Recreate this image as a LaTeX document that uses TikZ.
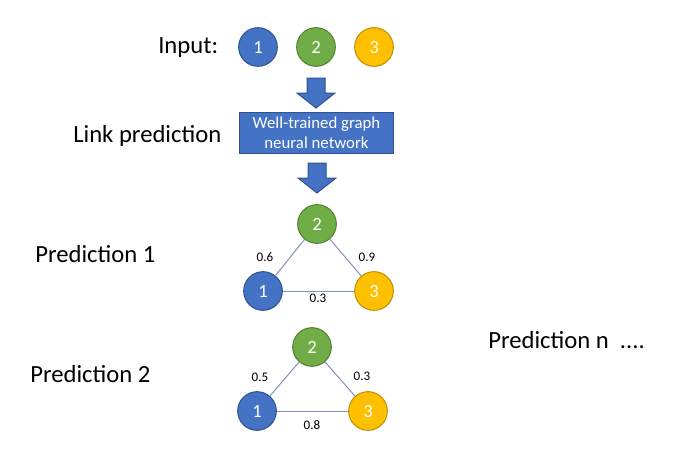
\documentclass[tikz,border=0pt]{standalone}
\usepackage{fontspec}
\setmainfont{Carlito}
\usepackage{tikz}
\usetikzlibrary{positioning,calc}
\usepackage{xcolor}

\definecolor{nblue}{HTML}{4472C4}
\definecolor{nblueline}{HTML}{2F528F}
\definecolor{ngreen}{HTML}{70AD47}
\definecolor{ngreenline}{HTML}{507E32}
\definecolor{ngold}{HTML}{FFC000}
\definecolor{ngoldline}{HTML}{BC8C00}
\definecolor{edgecol}{HTML}{7F93BA}

\begin{document}
\begin{tikzpicture}[x=0.75pt,y=-0.75pt,
    vtx/.style={circle, draw, line width=0.75pt, minimum size=29pt, inner sep=0pt, text=white, font=\fontsize{14}{16}\selectfont},
    vblue/.style={vtx, fill=nblue, draw=nblueline},
    vgreen/.style={vtx, fill=ngreen, draw=ngreenline},
    vgold/.style={vtx, fill=ngold, draw=ngoldline},
    lbl/.style={anchor=base west, inner sep=0pt, font=\fontsize{18.5}{22}\selectfont},
    wt/.style={inner sep=0pt, font=\fontsize{9.8}{11}\selectfont},
    link/.style={draw=edgecol, line width=0.75pt},
    blockarrow/.style={fill=nblue, draw=nblueline, line width=0.75pt}]
    \useasboundingbox (0,0) rectangle (690,462);

    % Input
    \node[lbl] (input) at (158,53) {Input:};
    \node[vblue]  (in1) at (258,47) {1};
    \node[vgreen] (in2) at (316,47) {2};
    \node[vgold]  (in3) at (374,47) {3};

    % Down arrows
    \draw[blockarrow] (307,78) -- (325,78) -- (325,93) -- (335,93) -- (316,108) -- (297,93) -- (307,93) -- cycle;
    \draw[blockarrow] (308,163) -- (326,163) -- (326,178) -- (336,178) -- (317,193) -- (298,178) -- (308,178) -- cycle;

    % GNN box
    \node[lbl] (linkpred) at (73,142) {Link prediction};
    \node[fill=nblue, draw=nblueline, line width=0.75pt, minimum width=116pt, minimum height=30pt,
          align=center, text=white, font=\fontsize{12.6}{15}\selectfont] (gnn) at (316.5,133)
          {Well-trained graph\\neural network};

    % Prediction 1
    \node[lbl] (pred1) at (35,262) {Prediction 1};
    \node[vgreen] (a2) at (317,224) {2};
    \node[vblue]  (a1) at (263,291) {1};
    \node[vgold]  (a3) at (374,291) {3};
    \draw[link] (a1) -- (a2);
    \draw[link] (a2) -- (a3);
    \draw[link] (a1) -- (a3);
    \node[wt] (w12a) at (265,257) {0.6};
    \node[wt] (w23a) at (367,257) {0.9};
    \node[wt] (w13a) at (318,298) {0.3};

    % Prediction 2
    \node[lbl] (pred2) at (30,382) {Prediction 2};
    \node[vgreen] (b2) at (312,347) {2};
    \node[vblue]  (b1) at (257,411) {1};
    \node[vgold]  (b3) at (368,411) {3};
    \draw[link] (b1) -- (b2);
    \draw[link] (b2) -- (b3);
    \draw[link] (b1) -- (b3);
    \node[wt] (w12b) at (260,377) {0.5};
    \node[wt] (w23b) at (362,376) {0.3};
    \node[wt] (w13b) at (312,425) {0.8};

    % Prediction n
    \node[lbl] (predn) at (488,348) {Prediction n\ \ ....};
\end{tikzpicture}
\end{document}
